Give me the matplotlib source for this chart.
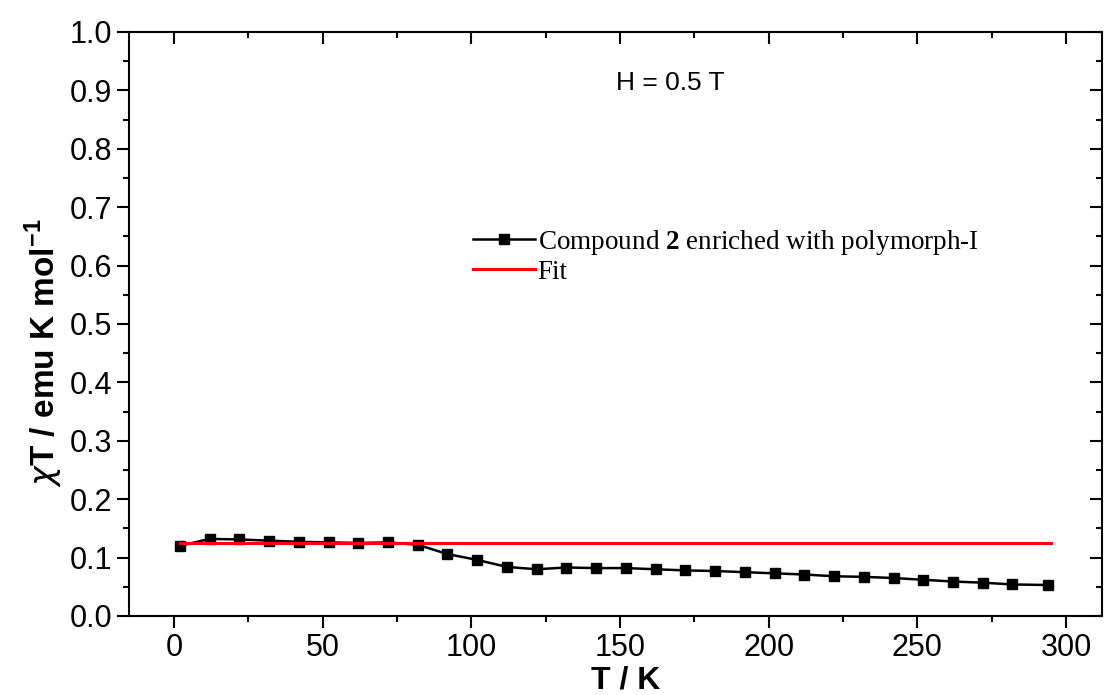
import numpy as np
import matplotlib
matplotlib.use("Agg")
import matplotlib.pyplot as plt
from matplotlib.ticker import MultipleLocator

plt.rcParams['font.family'] = ['Liberation Sans', 'DejaVu Sans']
plt.rcParams['mathtext.fontset'] = 'custom'
plt.rcParams['mathtext.rm'] = 'Liberation Sans:bold'
plt.rcParams['mathtext.bf'] = 'Liberation Serif:bold'

# chi*T data
temp = [2, 12, 22, 32, 42, 52, 62, 72, 82, 92, 102, 112, 122, 132,
        142, 152, 162, 172, 182, 192, 202, 212, 222, 232, 242, 252, 262, 272, 282, 294]
chiT = [0.120, 0.132, 0.131, 0.129, 0.127, 0.126, 0.125, 0.126, 0.122, 0.106,
        0.096, 0.084, 0.080, 0.083, 0.082, 0.082, 0.080, 0.078, 0.077, 0.075,
        0.073, 0.071, 0.068, 0.067, 0.065, 0.062, 0.059, 0.057, 0.054, 0.053]

fit_temp = [2, 295]
fit_chiT = [0.1245, 0.1245]

fig = plt.figure(figsize=(11.05, 6.95), dpi=100)
ax = fig.add_axes([0.117, 0.1137, 0.880, 0.8403])

ax.plot(temp, chiT, '-s', color='black', lw=1.8, ms=6.5, mec='black',
        label=r"Compound $\mathbf{2}$ enriched with polymorph-I")
ax.plot(fit_temp, fit_chiT, '-', color='red', lw=2.2, label="Fit")

ax.set_xlim(-15, 312)
ax.set_ylim(0, 1.0)
ax.xaxis.set_major_locator(MultipleLocator(50))
ax.xaxis.set_minor_locator(MultipleLocator(25))
ax.yaxis.set_major_locator(MultipleLocator(0.1))
ax.yaxis.set_minor_locator(MultipleLocator(0.05))
ax.yaxis.set_major_formatter(plt.FuncFormatter(lambda v, p: f"{v:.1f}"))

for s in ax.spines.values():
    s.set_linewidth(1.5)
ax.tick_params(axis='both', which='major', direction='out', length=8.5, width=1.5,
               labelsize=22, pad=4, top=True, right=True)
ax.tick_params(axis='both', which='minor', direction='out', length=4.5, width=1.5,
               top=True, right=True)
# top and right ticks point inward
for t in ax.xaxis.get_major_ticks() + ax.xaxis.get_minor_ticks():
    t.tick2line.set_marker(matplotlib.markers.TICKDOWN)
for t in ax.yaxis.get_major_ticks() + ax.yaxis.get_minor_ticks():
    t.tick2line.set_marker(matplotlib.markers.TICKLEFT)

ax.set_xlabel("T / K", fontsize=23, fontweight='bold', labelpad=-2)
ax.xaxis.set_label_coords(0.51, -0.085)
ax.set_ylabel(r"$\chi$T / emu K mol$^{\mathrm{-1}}$", fontsize=24, fontweight='bold')
ax.yaxis.set_label_coords(-0.066, 0.45)

ax.text(0.501, 0.9, "H = 0.5 T", transform=ax.transAxes, fontsize=19)

leg = ax.legend(loc='upper left', bbox_to_anchor=(0.353, 0.665), frameon=False,
                prop={'family': 'Liberation Serif', 'size': 19.5},
                handlelength=2.3, handletextpad=0.1, labelspacing=0.12,
                borderpad=0, borderaxespad=0)

fig.savefig("out.png", dpi=100)
